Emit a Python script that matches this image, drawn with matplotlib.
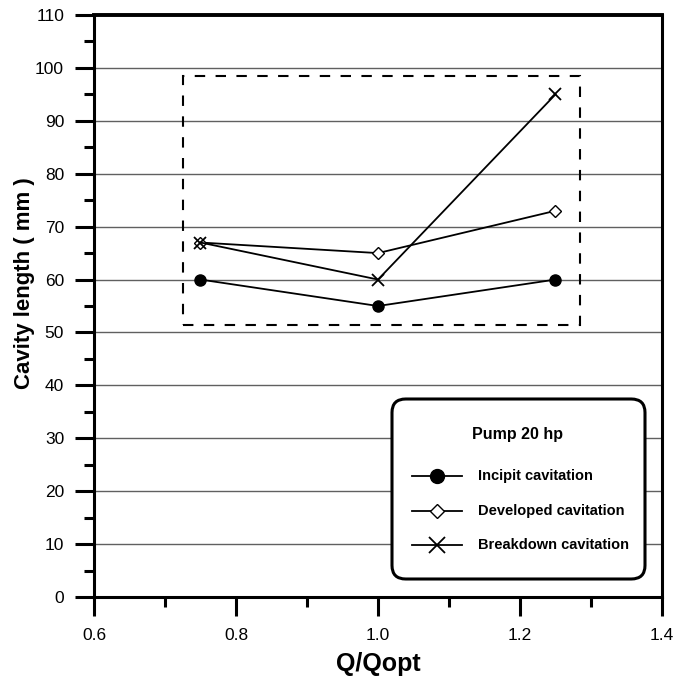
import numpy as np
import matplotlib.pyplot as plt
from matplotlib.patches import Rectangle, FancyBboxPatch
from matplotlib.lines import Line2D
from matplotlib.ticker import MultipleLocator

plt.rcParams['font.family'] = ['Liberation Sans', 'DejaVu Sans']

q = [0.75, 1.0, 1.25]
incipit = [60, 55, 60]
developed = [67, 65, 73]
breakdown = [67, 60, 95]
labels = ['Incipit cavitation', 'Developed cavitation', 'Breakdown cavitation']

fig = plt.figure(figsize=(6.88, 6.77), dpi=100)
ax = fig.add_axes([0.1366, 0.1182, 0.8256, 0.8596])

ax.set_xlim(0.6, 1.4)
ax.set_ylim(0, 110)
ax.xaxis.set_major_locator(MultipleLocator(0.2))
ax.xaxis.set_minor_locator(MultipleLocator(0.1))
ax.yaxis.set_major_locator(MultipleLocator(10))
ax.yaxis.set_minor_locator(MultipleLocator(5))
ax.xaxis.set_major_formatter(plt.FuncFormatter(lambda v, p: '%.1f' % v))

ax.grid(axis='y', which='major', color='#606060', lw=1.0)
ax.set_axisbelow(True)

ax.tick_params(which='major', direction='out', length=13.5, width=2.2, labelsize=12.5)
ax.tick_params(which='minor', direction='out', length=7.5, width=2.2)
ax.tick_params(axis='x', which='major', pad=9)
ax.tick_params(axis='y', which='major', pad=8)
ax.tick_params(top=False, right=False)
for s in ax.spines.values():
    s.set_linewidth(2.2)
ax.spines['top'].set_linewidth(2.8)

ax.plot(q, incipit, color='black', lw=1.3, marker='o', ms=8, mfc='black', zorder=3)
ax.plot(q, developed, color='black', lw=1.3, marker='D', ms=6, mfc='white', zorder=3)
ax.plot(q, breakdown, color='black', lw=1.3, marker='x', ms=9, mew=1.3, zorder=3)

ax.add_patch(Rectangle((0.725, 51.4), 0.56, 47.1, fill=False, ls=(0, (5, 5)),
                       lw=1.5, ec='black', zorder=2))

ax.set_xlabel('Q/Qopt', fontsize=18, fontweight='bold')
ax.xaxis.set_label_coords(0.5, -0.094)
ax.set_ylabel('Cavity length ( mm )', fontsize=16, fontweight='bold')
ax.yaxis.set_label_coords(-0.104, 0.54)

# legend box
ax.add_patch(FancyBboxPatch((392 / 688, 1 - 579 / 677), 253 / 688, 180 / 677,
                            boxstyle='round,pad=0,rounding_size=0.02',
                            transform=fig.transFigure, fc='white', ec='black',
                            lw=2.2, zorder=5))
fig.text(518 / 688, 1 - 435 / 677, 'Pump 20 hp', fontsize=11.5, fontweight='bold',
         ha='center', va='center', zorder=6)
styles = [dict(marker='o', ms=10, mfc='black'),
          dict(marker='D', ms=7, mfc='white'),
          dict(marker='x', ms=12, mew=1.3)]
ys = [476, 511, 545]
for lab, st, yy in zip(labels, styles, ys):
    yf = 1 - yy / 677
    fig.add_artist(Line2D([412 / 688, 462 / 688], [yf, yf], color='black', lw=1.3, zorder=6))
    fig.add_artist(Line2D([437 / 688], [yf], color='black', ls='none', zorder=7,
                          transform=fig.transFigure, **st))
    fig.text(478 / 688, yf, lab, fontsize=10.5, fontweight='bold', va='center', zorder=6)

fig.savefig('out.png', dpi=100)
